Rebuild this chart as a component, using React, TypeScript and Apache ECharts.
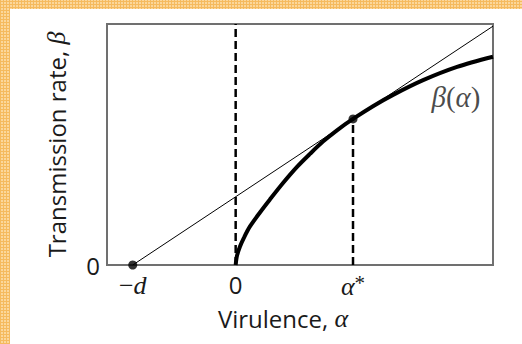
import React, { useEffect, useRef } from "react";
import * as echarts from "echarts";

// ---- data ----
const X_MIN = -1.25;
const X_MAX = 2.5;
const Y_MIN = 0;
const Y_MAX = 1;

const minusD = -1;
const alphaStar = 1.14;
const betaStar = 0.606;

const curveAlpha = [0, 0.013, 0.042, 0.081, 0.139, 0.236, 0.333, 0.46, 0.596, 0.722, 0.848, 0.984, 1.14, 1.334, 1.529, 1.821, 2.151, 2.5];
const curveBeta = [0, 0.039, 0.077, 0.114, 0.16, 0.218, 0.272, 0.34, 0.407, 0.461, 0.512, 0.559, 0.606, 0.659, 0.706, 0.767, 0.822, 0.864];

const tangentAlpha = [-1, 2.5];
const tangentBeta = [0, 0.991];

const xTickValues = [-1, 0, 1.14];
const xTickLabels = ["−d", "0", "α*"];
const yTickValues = [0];
const yTickLabels = ["0"];

const curveLabel = "β(α)";
const curveLabelAt = [2.14, 0.697];

const SANS = '"Open Sans", "Noto Sans", sans-serif';
const SERIF = '"Liberation Serif", "DejaVu Serif", serif';
const TEXT = "#1a1a1a";

function xLabelRich(label: string): string {
  if (label === "−d") return "{m|−}{it|d}";
  if (label === "α*") return "{it|α}{st|*}";
  return "{num|" + label + "}";
}

export default function App() {
  const ref = useRef<HTMLDivElement>(null);

  useEffect(() => {
    document.body.style.margin = "0";
    if (!ref.current) return;
    const chart = echarts.init(ref.current, undefined, { renderer: "svg" });

    const curve = curveAlpha.map((a, i) => [a, curveBeta[i]]);
    const tangent = tangentAlpha.map((a, i) => [a, tangentBeta[i]]);
    const dashed = { color: "#000", width: 2.5, type: [8, 4] as number[] };

    chart.setOption({
      animation: false,
      backgroundColor: "#fff",
      grid: {
        left: 97,
        top: 15,
        right: 29,
        bottom: 79,
        show: true,
        borderColor: "#707070",
        borderWidth: 2,
        backgroundColor: "transparent",
        outerBoundsMode: "none",
        containLabel: false,
      },
      xAxis: {
        type: "value",
        min: X_MIN,
        max: X_MAX,
        splitLine: { show: false },
        axisLine: { show: false },
        axisTick: { show: false },
        name: "Virulence, {a|α}",
        nameLocation: "middle",
        nameGap: 40,
        nameTextStyle: {
          fontFamily: SANS,
          fontSize: 24,
          color: TEXT,
          padding: [0, 34, 0, 0],
          rich: { a: { fontFamily: SERIF, fontStyle: "italic", fontSize: 26, color: TEXT } },
        },
        axisLabel: {
          customValues: xTickValues,
          margin: 7,
          formatter: (v: number) => {
            const i = xTickValues.findIndex((t) => Math.abs(t - v) < 1e-6);
            return i >= 0 ? xLabelRich(xTickLabels[i]) : "";
          },
          rich: {
            m: { fontFamily: SERIF, fontSize: 26, color: TEXT },
            it: { fontFamily: SERIF, fontStyle: "italic", fontSize: 26, color: TEXT },
            st: { fontFamily: SERIF, fontSize: 21, color: TEXT, verticalAlign: "top", padding: [0, 0, 8, 0] },
            num: { fontFamily: SANS, fontSize: 24, color: TEXT },
          },
        },
      },
      yAxis: {
        type: "value",
        min: Y_MIN,
        max: Y_MAX,
        splitLine: { show: false },
        axisLine: { show: false },
        axisTick: { show: false },
        name: "Transmission rate, {b|β}",
        nameLocation: "middle",
        nameGap: 38,
        nameTextStyle: {
          fontFamily: SANS,
          fontSize: 24,
          color: TEXT,
          rich: { b: { fontFamily: SERIF, fontStyle: "italic", fontSize: 26, color: TEXT } },
        },
        axisLabel: {
          customValues: yTickValues,
          margin: 7,
          fontFamily: SANS,
          fontSize: 24,
          color: TEXT,
          formatter: (v: number) => {
            const i = yTickValues.findIndex((t) => Math.abs(t - v) < 1e-6);
            return i >= 0 ? yTickLabels[i] : "";
          },
        },
      },
      series: [
        {
          type: "line",
          data: [[0, Y_MIN], [0, Y_MAX]],
          symbol: "none",
          lineStyle: dashed,
          silent: true,
        },
        {
          type: "line",
          data: [[alphaStar, Y_MIN], [alphaStar, betaStar]],
          symbol: "none",
          lineStyle: dashed,
          silent: true,
        },
        {
          type: "line",
          data: tangent,
          symbol: "none",
          lineStyle: { color: "#000", width: 1 },
          silent: true,
        },
        {
          type: "line",
          data: curve,
          symbol: "none",
          smooth: 0.3,
          lineStyle: { color: "#000", width: 4 },
          silent: true,
        },
        {
          type: "scatter",
          data: [[minusD, 0], [alphaStar, betaStar]],
          symbol: "circle",
          symbolSize: 9,
          itemStyle: { color: "#000" },
          silent: true,
          z: 5,
        },
        {
          type: "scatter",
          data: [curveLabelAt],
          symbolSize: 1,
          itemStyle: { color: "transparent" },
          silent: true,
          label: {
            show: true,
            position: "inside",
            formatter: () => "{g|β}{p|(}{g|α}{p|)}",
            rich: {
              g: { fontFamily: SERIF, fontStyle: "italic", fontSize: 29, color: TEXT },
              p: { fontFamily: SERIF, fontSize: 29, color: TEXT },
            },
          },
        },
      ],
    });

    return () => chart.dispose();
  }, []);

  return (
    <div
      style={{
        position: "relative",
        width: 522,
        height: 344,
        backgroundColor: "#FBD79B",
        backgroundImage:
          "repeating-linear-gradient(0deg, #F5BA5E 0px, #F5BA5E 1px, transparent 1px, transparent 3px), repeating-linear-gradient(90deg, #F5BA5E 0px, #F5BA5E 1px, transparent 1px, transparent 3px)",
        overflow: "hidden",
      }}
    >
      <div
        ref={ref}
        style={{ position: "absolute", left: 10, top: 9, width: 512, height: 335, background: "#fff" }}
      />
    </div>
  );
}
